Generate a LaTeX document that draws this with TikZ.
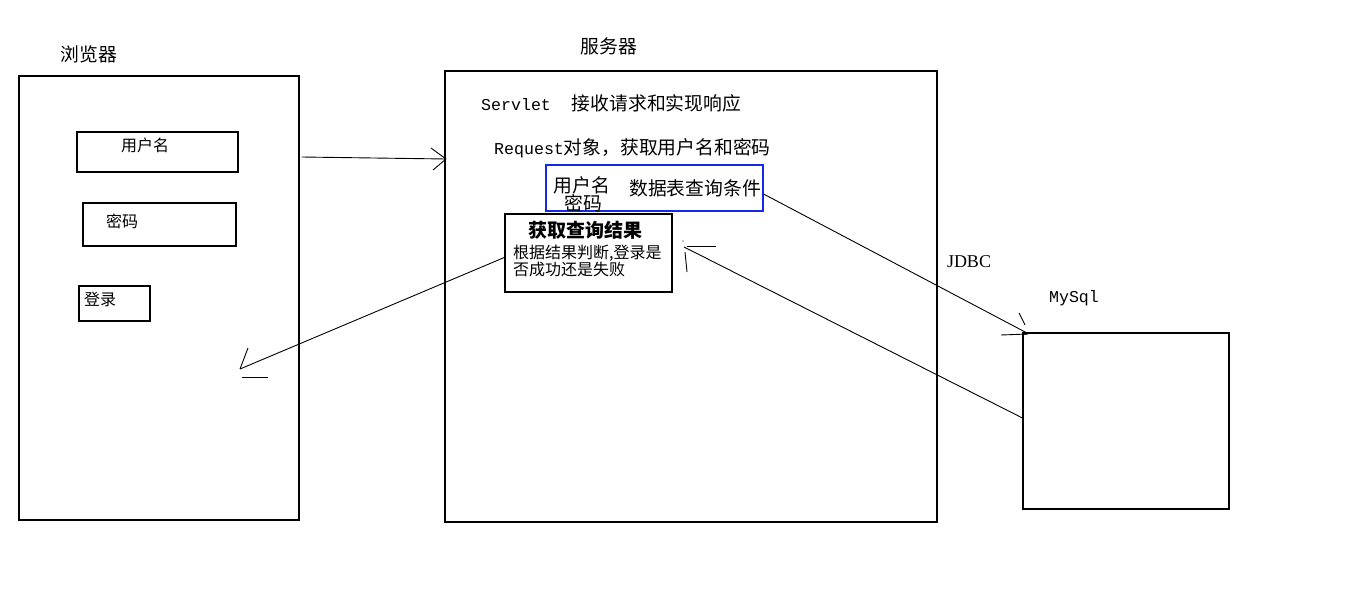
\documentclass[tikz,border=0pt]{standalone}
\usepackage{fontspec}
\setmainfont{Noto Sans CJK SC}
\newfontfamily\monofont{Liberation Mono}
\newfontfamily\latinserif{Liberation Serif}
\usetikzlibrary{calc}
\newcommand{\fsSmall}{\fontsize{16}{17}\selectfont}
\newcommand{\fsBig}{\fontsize{18.8}{21}\selectfont}
\newcommand{\fsMono}{\fontsize{16.6}{19}\selectfont\monofont}
\begin{document}
\begin{tikzpicture}[x=1pt,y=-1pt,
  box/.style={draw, line width=1.1pt, inner sep=0pt},
  bluebox/.style={box, draw={rgb,255:red,20;green,40;blue,230}},
  lbl/.style={inner sep=0pt},
  conn/.style={line width=0.9pt}]
\useasboundingbox (0,0) rectangle (1358,605);

% browser side
\node[lbl] (browsertitle) at (89,54) {\fsBig 浏览器};
\node[box, minimum width=280pt, minimum height=444pt] (browser) at (159,298) {};
\node[box, minimum width=161pt, minimum height=40pt] (userbox) at (157.5,152) {};
\node[lbl] (usertxt) at (145,145) {\fsSmall 用户名};
\node[box, minimum width=153pt, minimum height=43pt] (pwdbox) at (159.5,224.5) {};
\node[lbl] (pwdtxt) at (122,221) {\fsSmall 密码};
\node[box, minimum width=71pt, minimum height=35pt] (loginbox) at (114.5,303.5) {};
\node[lbl] (logintxt) at (100,299) {\fsSmall 登录};

% server side
\node[lbl] (servertitle) at (609,46) {\fsBig 服务器};
\node[box, minimum width=492pt, minimum height=451pt] (server) at (691,296.5) {};
\node[lbl, anchor=west] (servlet) at (481,103) {{\fsMono Servlet}\hspace{21pt}{\fsBig 接收请求和实现响应}};
\node[lbl, anchor=west] (request) at (494,148) {{\fsMono Request}{\fsBig 对象，获取用户名和密码}};
\node[bluebox, minimum width=217pt, minimum height=46pt] (query) at (654.5,188) {};
\node[lbl] (quser) at (582,185) {\fsBig 用户名};
\node[lbl] (qpwd) at (583,203) {\fsBig 密码};
\node[lbl] (qcond) at (695,188) {\fsBig 数据表查询条件};
\node[box, fill=white, minimum width=167pt, minimum height=78pt] (result) at (588.5,253) {};
\node[lbl] (restitle) at (585,230) {\fontsize{19}{21}\selectfont\bfseries 获取查询结果};
\node[lbl, anchor=west, align=left] (resbody) at (513,261) {\fsSmall 根据结果判断,登录是\\ \fsSmall 否成功还是失败};

% database side
\node[lbl] (jdbc) at (969,262) {\fontsize{18}{20}\selectfont\latinserif JDBC};
\node[lbl] (mysqltitle) at (1074,298) {\fsMono MySql};
\node[box, minimum width=206pt, minimum height=176pt] (mysql) at (1126,421) {};

% request: browser -> server
\coordinate (reqtip) at (446,159);
\draw[conn] ($(browser.east)+(2,-141)$) -- (reqtip);
\draw[conn] (reqtip) -- ++(-15,-11);
\draw[conn] (reqtip) -- ++(-13,11);

% response: result -> browser
\coordinate (backtip) at (240,369);
\draw[conn] ($(result.west)+(1,4)$) -- (backtip);
\draw[conn] (backtip) -- ++(8,-21);
\draw[conn] ($(backtip)+(2,8)$) -- ++(26,0);

% query: server -> database
\coordinate (dbtip) at (1027,333);
\draw[conn] ($(query.east)+(0,6)$) -- (dbtip);
\draw[conn] ($(dbtip)+(-8,-20)$) -- ++(6,12);
\draw[conn] ($(dbtip)+(-26,2)$) -- ++(27,-1);
\draw[line width=2pt] ($(dbtip)+(-5,1)$) -- ++(6,-1);

% result set: database -> server
\coordinate (rettip) at (684,247);
\draw[conn] ($(mysql.west)+(0,-3)$) -- (rettip);
\draw[conn] ($(rettip)+(3,-1)$) -- ++(29,0);
\draw[conn] ($(rettip)+(1,5)$) -- ++(2,20);
\fill ($(rettip)+(-1,-6)$) circle (0.7pt);
\end{tikzpicture}
\end{document}
